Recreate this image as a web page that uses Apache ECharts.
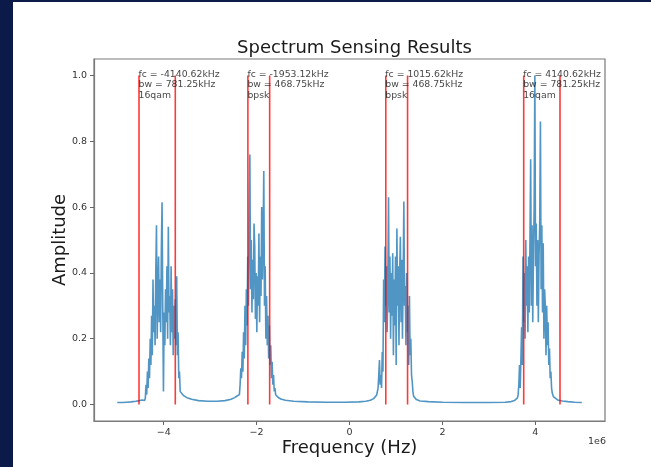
<!DOCTYPE html>
<html><head><meta charset="utf-8">
<script src="https://cdn.jsdelivr.net/npm/echarts@6/dist/echarts.min.js"></script>
<style>html,body{margin:0;padding:0;background:#fff}#c{width:651px;height:467px}</style>
</head><body><div id="c"></div><script>
// ---- data ----
const xTicks = [-4, -2, 0, 2, 4];            // ×1e6 Hz
const yTicks = [0, 0.2, 0.4, 0.6, 0.8, 1.0];
const bandCenters = [-4140.62, -1953.12, 1015.62, 4140.62]; // kHz
const bandWidths = [781.25, 468.75, 468.75, 781.25];        // kHz
const bandMods = ['16qam', 'bpsk', 'bpsk', '16qam'];
const binStep = 0.015; // MHz between FFT bins inside occupied bands
// noise floor samples [MHz, amplitude]
const floorPoints = [
  [-5.0,0.006],[-4.9,0.006],[-4.8,0.007],[-4.7,0.008],[-4.6,0.010],[-4.52,0.012],[-4.46,0.014],[-4.43,0.016],
  [-3.62,0.035],[-3.58,0.028],[-3.5,0.021],[-3.4,0.016],[-3.25,0.012],[-3.05,0.010],[-2.85,0.010],[-2.68,0.012],[-2.55,0.016],[-2.47,0.021],[-2.42,0.026],[-2.39,0.030],
  [-1.57,0.028],[-1.54,0.022],[-1.48,0.017],[-1.38,0.013],[-1.2,0.010],[-0.9,0.008],[-0.5,0.007],[-0.1,0.007],[0.2,0.008],[0.35,0.010],[0.45,0.013],[0.52,0.018],[0.56,0.023],[0.585,0.029],
  [1.40,0.020],[1.44,0.015],[1.52,0.011],[1.7,0.009],[2.0,0.007],[2.5,0.006],[3.0,0.006],[3.35,0.007],[3.48,0.009],[3.55,0.012],[3.585,0.016],
  [4.39,0.024],[4.42,0.018],[4.48,0.014],[4.58,0.011],[4.7,0.009],[4.85,0.007],[5.0,0.006]
];
const band1Start = -4.41;
const band1Values = [0.012,0.02,0.06,0.03,0.10,0.05,0.14,0.08,0.20,0.12,0.27,0.15,0.38,0.22,0.30,0.18,0.40,0.545,0.20,0.33,0.45,0.25,0.38,0.22,0.47,0.615,0.30,0.04,0.28,0.18,0.35,0.25,0.42,0.20,0.54,0.28,0.33,0.18,0.42,0.22,0.35,0.15,0.30,0.20,0.32,0.18,0.39,0.15,0.22,0.08,0.10,0.04];
const band2Start = -2.37;
const band2Values = [0.03,0.06,0.11,0.08,0.16,0.10,0.22,0.14,0.30,0.18,0.35,0.24,0.45,0.30,0.58,0.76,0.35,0.50,0.28,0.44,0.32,0.55,0.48,0.26,0.40,0.22,0.39,0.30,0.52,0.25,0.45,0.33,0.60,0.38,0.50,0.71,0.30,0.42,0.20,0.33,0.18,0.27,0.14,0.24,0.12,0.18,0.08,0.13,0.06,0.09,0.04,0.05,0.03];
const band3Start = 0.60;
const band3Values = [0.035,0.05,0.09,0.135,0.06,0.09,0.05,0.16,0.10,0.38,0.25,0.48,0.30,0.42,0.22,0.36,0.63,0.28,0.45,0.20,0.40,0.27,0.46,0.15,0.38,0.24,0.45,0.12,0.535,0.30,0.42,0.18,0.40,0.51,0.25,0.44,0.20,0.38,0.617,0.30,0.36,0.18,0.40,0.22,0.30,0.12,0.33,0.15,0.20,0.09,0.07,0.04,0.025];
const band4Start = 3.615;
const band4Values = [0.02,0.03,0.06,0.12,0.05,0.14,0.235,0.12,0.45,0.25,0.40,0.20,0.50,0.30,0.42,0.22,0.45,0.28,0.50,0.745,0.30,0.545,0.25,0.45,0.60,1.0,0.42,0.55,0.30,0.50,0.25,0.45,0.55,0.86,0.35,0.545,0.28,0.49,0.20,0.35,0.30,0.15,0.30,0.18,0.25,0.12,0.17,0.08,0.10,0.05,0.035,0.03];

// ---- build ----
const bands = [[band1Start, band1Values],[band2Start, band2Values],[band3Start, band3Values],[band4Start, band4Values]];
let pts = floorPoints.map(p => [p[0]*1e6, p[1]]);
bands.forEach(([s, vals]) => vals.forEach((v, i) => pts.push([(s + i*binStep)*1e6, v])));
pts.sort((a, b) => a[0] - b[0]);

const FONT = 'DejaVu Sans';
const edges = [];
bandCenters.forEach((fc, i) => { edges.push((fc - bandWidths[i]/2)*1e3); edges.push((fc + bandWidths[i]/2)*1e3); });

const series = [{
  type: 'line', data: pts, showSymbol: false, symbol: 'none', animation: false,
  lineStyle: { color: '#1f77b4', width: 1.6, opacity: 0.78 }, z: 2
}];
edges.forEach(e => series.push({
  type: 'line', data: [[e, 0], [e, 1]], showSymbol: false, symbol: 'none', animation: false,
  lineStyle: { color: '#ff0000', width: 1.6, opacity: 0.78 }, z: 3
}));
series.push({
  type: 'scatter', symbolSize: 1, itemStyle: { color: 'rgba(0,0,0,0)' }, animation: false, z: 4,
  data: bandCenters.map((fc, i) => ({
    value: [(fc - bandWidths[i]/2)*1e3, 1.0],
    label: { formatter: 'fc = ' + fc.toFixed(2) + 'kHz\nbw = ' + bandWidths[i].toFixed(2) + 'kHz\n' + bandMods[i] }
  })),
  label: { show: true, position: [0, 0], align: 'left', verticalAlign: 'top', offset: [0, -6],
    fontSize: 9.3, lineHeight: 10.6, color: '#111', fontFamily: FONT }
});

const fmtX = v => { const n = Math.round(v/1e6); return n < 0 ? '\u2212' + Math.abs(n) : String(n); };
const chart = echarts.init(document.getElementById('c'), null, { renderer: 'canvas' });
chart.setOption({
  backgroundColor: '#ffffff',
  animation: false,
  title: { text: 'Spectrum Sensing Results', left: 349.5, top: 34, textAlign: 'center',
    textStyle: { fontSize: 18, fontWeight: 'normal', color: '#1a1a1a', fontFamily: FONT } },
  grid: { left: 94, top: 59, width: 511, height: 362, show: true, borderColor: '#7a7a7a', borderWidth: 1.2, backgroundColor: 'transparent' },
  xAxis: {
    type: 'value', min: -5.5e6, max: 5.5e6,
    splitLine: { show: false },
    axisLine: { show: true, onZero: false, lineStyle: { color: '#7a7a7a', width: 1.2 } },
    axisTick: { show: true, length: 4, customValues: xTicks.map(v => v*1e6), lineStyle: { color: '#666' } },
    axisLabel: { customValues: xTicks.map(v => v*1e6), formatter: fmtX, fontSize: 9.5, color: '#333', margin: 7, fontFamily: FONT },
    name: 'Frequency (Hz)', nameLocation: 'middle', nameGap: 18, nameMoveOverlap: false,
    nameTextStyle: { fontSize: 18, color: '#1a1a1a', fontFamily: FONT }
  },
  yAxis: {
    type: 'value', min: -0.05, max: 1.05,
    splitLine: { show: false },
    axisLine: { show: true, onZero: false, lineStyle: { color: '#7a7a7a', width: 1.2 } },
    axisTick: { show: true, length: 4, customValues: yTicks, lineStyle: { color: '#666' } },
    axisLabel: { customValues: yTicks, formatter: v => v.toFixed(1), fontSize: 9.5, color: '#333', margin: 7, fontFamily: FONT },
    name: 'Amplitude', nameLocation: 'middle', nameGap: 25, nameRotate: 90, nameMoveOverlap: false,
    nameTextStyle: { fontSize: 18, color: '#1a1a1a', fontFamily: FONT }
  },
  graphic: [
    { type: 'rect', shape: { x: 0, y: 0, width: 13, height: 467 }, style: { fill: '#0b1a48' }, z: 100 },
    { type: 'rect', shape: { x: 0, y: 0, width: 651, height: 2 }, style: { fill: '#0b1a48' }, z: 100 },
    { type: 'text', x: 606, y: 437, style: { text: '1e6', textAlign: 'right', fontSize: 9.5, fill: '#333', fontFamily: FONT } }
  ],
  series: series
});
</script></body></html>
